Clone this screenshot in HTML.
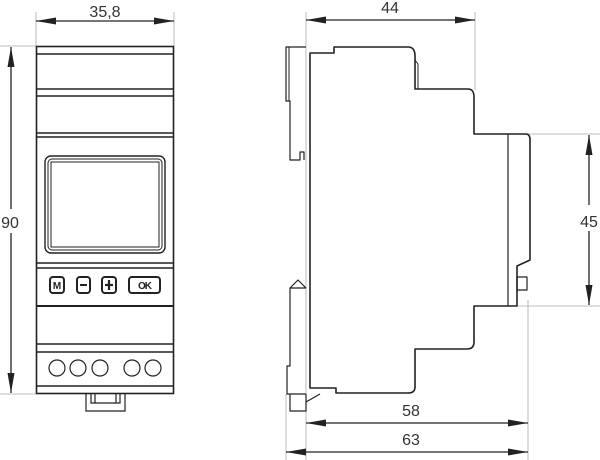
<!DOCTYPE html>
<html><head><style>
html,body{margin:0;padding:0;background:#fff;}
svg{display:block;}
text{font-family:"Liberation Sans",sans-serif;fill:#333;}
</style></head><body>
<svg width="600" height="460" viewBox="0 0 600 460" xmlns="http://www.w3.org/2000/svg">
<defs>
<marker id="a" viewBox="0 0 20 7" refX="20" refY="3.5" markerWidth="20" markerHeight="7" orient="auto-start-reverse" markerUnits="userSpaceOnUse">
<path d="M0,0 L20,3.5 L0,7 Z" fill="#222"/></marker>
</defs>
<g stroke="#aaa" stroke-width="0.8" fill="none">
<line x1="36" y1="12" x2="36" y2="46"/><line x1="174" y1="12" x2="174" y2="46"/>
<line x1="0" y1="46" x2="36" y2="46"/><line x1="0" y1="394" x2="36" y2="394"/>
<line x1="306" y1="12" x2="306" y2="460"/><line x1="475" y1="12" x2="475" y2="90"/>
<line x1="528" y1="134" x2="600" y2="134"/><line x1="517" y1="306" x2="600" y2="306"/>
<line x1="528" y1="300" x2="528" y2="460"/><line x1="286" y1="394" x2="286" y2="460"/>
</g>
<g stroke="#222" stroke-width="1.3" fill="none">
<line x1="36" y1="21" x2="174" y2="21" marker-start="url(#a)" marker-end="url(#a)"/>
<line x1="11" y1="47" x2="11" y2="393" marker-start="url(#a)" marker-end="url(#a)"/>
<line x1="306" y1="20" x2="475" y2="20" marker-start="url(#a)" marker-end="url(#a)"/>
<line x1="589" y1="135" x2="589" y2="305" marker-start="url(#a)" marker-end="url(#a)"/>
<line x1="306" y1="423" x2="528" y2="423" marker-start="url(#a)" marker-end="url(#a)"/>
<line x1="286" y1="452" x2="528" y2="452" marker-start="url(#a)" marker-end="url(#a)"/>
</g>
<rect x="0" y="209" width="24" height="24" fill="#fff"/>
<rect x="578" y="205" width="22" height="26" fill="#fff"/>
<g font-size="16" text-anchor="middle">
<text x="105" y="17">35,8</text>
<text x="10" y="228">90</text>
<text x="390" y="13">44</text>
<text x="589" y="227">45</text>
<text x="411" y="416">58</text>
<text x="411" y="445">63</text>
</g>
<!-- front view -->
<g stroke="#222" stroke-width="1.6" fill="none">
<rect x="36.5" y="46.5" width="137" height="347"/>
<line x1="37" y1="54" x2="173" y2="54"/>
<line x1="37" y1="89" x2="173" y2="89"/><line x1="37" y1="96" x2="173" y2="96"/>
<line x1="37" y1="133" x2="173" y2="133"/><line x1="37" y1="137" x2="173" y2="137"/>
<rect x="45" y="156" width="120" height="97" rx="6" stroke-width="1.4"/>
<rect x="48" y="159" width="114" height="91" rx="4" stroke-width="1"/>
<rect x="51" y="162" width="108" height="85" stroke-width="1"/>
<line x1="37" y1="263" x2="173" y2="263"/><line x1="37" y1="268" x2="173" y2="268"/>
<rect x="50" y="277" width="14" height="16" rx="3" stroke-width="2"/>
<rect x="77" y="277" width="13" height="16" rx="3" stroke-width="2"/>
<rect x="102" y="277" width="14" height="16" rx="3" stroke-width="2"/>
<rect x="129" y="277" width="31" height="16" rx="3" stroke-width="2"/>
<line x1="80" y1="285" x2="87" y2="285" stroke-width="2"/>
<line x1="105" y1="285" x2="113" y2="285" stroke-width="2.2"/>
<line x1="109" y1="280" x2="109" y2="290" stroke-width="2.2"/>
<line x1="37" y1="306" x2="173" y2="306" stroke-width="2"/>
<line x1="37" y1="344" x2="173" y2="344"/><line x1="37" y1="352" x2="173" y2="352"/>
<line x1="37" y1="386" x2="173" y2="386"/>
<g stroke-width="1.2">
<circle cx="57" cy="368" r="8"/><circle cx="78" cy="368" r="8"/><circle cx="100" cy="368" r="8"/>
<circle cx="132" cy="368" r="8"/><circle cx="153" cy="368" r="8"/>
</g>
<path d="M86 394 V411 H125 V394 M91 394 V403 H120 V394 M95 394 V403 M116 394 V403" stroke-width="1.2"/>
</g>
<g font-size="10" font-weight="bold" text-anchor="middle">
<text x="57" y="289" style="fill:#222">M</text>
<text x="144.5" y="289" style="fill:#222;letter-spacing:-1px">OK</text>
</g>
<!-- side view -->
<g stroke="#222" stroke-width="1.6" fill="none" stroke-linejoin="round">
<path d="M334 47 H408 Q415 47 415 56 V89 H468 Q474 89 474 97 V134 H526 Q530 134 530 140 V260 L517 266 V306 H474 V342 Q474 349 467 349 H415 V387 Q415 393 408 393 H336 V388 H310 V53 H334 Z"/>
<line x1="508" y1="134" x2="508" y2="306" stroke-width="1.2"/>
<rect x="517" y="277" width="10" height="13" stroke-width="1.2"/>
<path d="M306 47 H286 V101 H290 V160 H300 V152 H304 V160" stroke-width="1.2"/>
<path d="M289 47 V101" stroke-width="1"/>
<path d="M306 288 H290 L298 280 L306 288 M290 288 V366 H287 V394 H306 M290 394 V411 H306 V394 M306 402 L320 394" stroke-width="1.2"/>
<path d="M415 60 L418 64 V89" stroke-width="1"/>
</g>
</svg>
</body></html>
